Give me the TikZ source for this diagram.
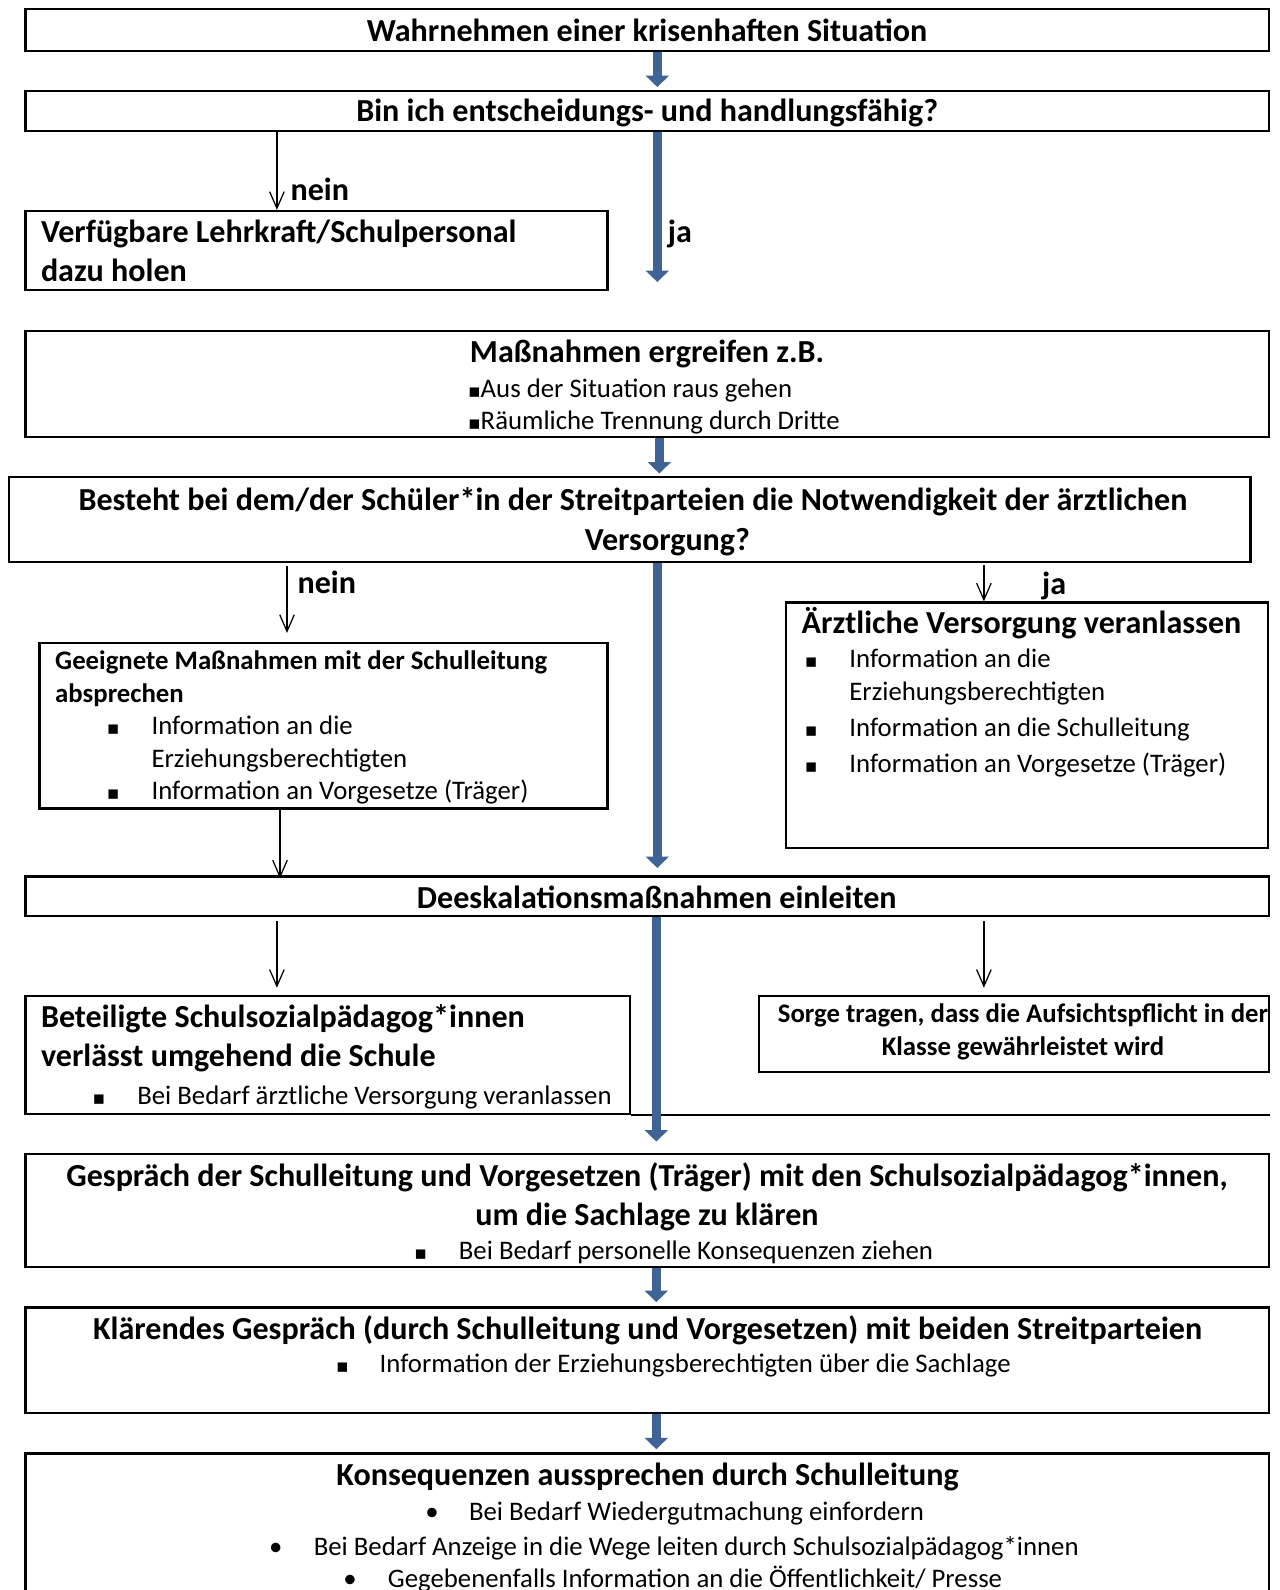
\documentclass[tikz,border=0pt]{standalone}
\usepackage{fontspec}
\setmainfont{Carlito}
\newfontfamily\symf{DejaVu Sans}
\usetikzlibrary{arrows.meta,fit}
\definecolor{arrowblue}{RGB}{62,99,148}
\newcommand\fT{\fontsize{15.4}{17}\selectfont\bfseries}
\newcommand\fL{\fontsize{15.4}{17}\selectfont\bfseries}
\newcommand\fS{\fontsize{12.85}{14}\selectfont\bfseries}
\newcommand\fB{\fontsize{12.85}{14}\selectfont}
\newcommand\sq{{\symf\fontsize{9}{11}\selectfont ▪}}
\newcommand\dt{{\fontsize{12.85}{14}\selectfont •}}
\begin{document}
\begin{tikzpicture}[x=0.48pt,y=-0.48pt,
  box/.style={draw, line width=1.1pt, inner sep=0pt},
  lt/.style={anchor=base west, inner sep=0pt},
  ct/.style={anchor=base, inner sep=0pt},
  bluearr/.style={draw=arrowblue, line width=4.3pt, -{Triangle[width=11pt,length=5.5pt]}},
  thinarr/.style={draw, line width=0.6pt, -{Straight Barb[length=8pt,width=7pt]}}]
\useasboundingbox (0,0) rectangle (1279,1590);
\fill[white] (0,0) rectangle (1279,1590);

% boxes
\node[box, fit={(25.4,9.1) (1268.9,50.7)}] (A) {};
\node[box, fit={(25.4,91.3) (1268.9,130.8)}] (B) {};
\node[box, fit={(25.4,211) (607.6,290.1)}] (C) {};
\node[box, fit={(25.4,330.7) (1268.9,437.2)}] (D) {};
\node[box, fit={(9.1,476.7) (1250.6,561.9)}] (E) {};
\node[box, fit={(39.6,643) (607.6,808.4)}] (F) {};
\node[box, fit={(786.1,602.5) (1267.9,848)}] (G) {};
\node[box, fit={(25.4,876.4) (1268.9,915.9)}] (H) {};
\node[box, fit={(25.4,996) (629.9,1113.7)}] (I) {};
\node[box, fit={(758.7,996) (1268.9,1072)}] (J) {};
\node[box, fit={(25.4,1154.3) (1268.9,1266.9)}] (K) {};
\node[box, fit={(25.4,1307.4) (1268.9,1412.9)}] (L) {};
\node[box, fit={(25.4,1453.5) (1268.9,1620)}] (M) {};
\draw[line width=1.1pt] (I.south east) -- (I.south east -| A.east);

% connector x positions
\coordinate (bx) at (657.3,0);
\coordinate (bx2) at (659.3,0);
\coordinate (bx3) at (656.3,0);
\coordinate (lx1) at (276.9,0);
\coordinate (lx2) at (287,0);
\coordinate (lx3) at (280,0);
\coordinate (rx) at (983.9,0);
\coordinate (jaend) at (657.3,282);

% blue arrows
\draw[bluearr, shorten >=1.5pt] (A.south -| bx) -- (B.north -| bx);
\draw[bluearr] (B.south -| bx) -- (jaend);
\draw[bluearr, shorten >=1pt] (D.south -| bx2) -- (E.north -| bx2);
\draw[bluearr, shorten >=3.5pt] (E.south -| bx) -- (H.north -| bx);
\draw[bluearr, shorten >=5.6pt] (H.south -| bx3) -- (K.north -| bx3);
\draw[bluearr, shorten >=2pt] (K.south -| bx3) -- (L.north -| bx3);
\draw[bluearr, shorten >=1.5pt] (L.south -| bx3) -- (M.north -| bx3);

% thin arrows
\draw[thinarr] (B.south -| lx1) -- (C.north -| lx1);
\draw[thinarr, shorten <=1.5pt, shorten >=4.3pt] (E.south -| lx2) -- (F.north -| lx2);
\draw[thinarr, shorten <=1pt] (E.south -| rx) -- (G.north -| rx);
\draw[thinarr] (F.south -| lx3) -- ([yshift=-1.5pt]H.north -| lx3);
\draw[thinarr, shorten <=2pt, shorten >=3.4pt] (H.south -| lx1) -- (I.north -| lx1);
\draw[thinarr, shorten <=2pt, shorten >=3.4pt] (H.south -| rx) -- (J.north -| rx);

% texts
\node[ct, font=\fT] (tA) at (647.1,41.7) {Wahrnehmen einer krisenhaften Situation};
\node[ct, font=\fT] (tB) at (647.1,121.9) {Bin ich entscheidungs- und handlungsfähig?};
\node[lt, font=\fT] (nein1) at (290.1,201) {nein};
\node[lt, font=\fL] (tC1) at (40.6,242.6) {Verfügbare Lehrkraft/Schulpersonal};
\node[lt, font=\fL] (tC2) at (40.6,281.1) {dazu holen};
\node[lt, font=\fT] (ja1) at (667.4,242.6) {ja};

\node[ct, font=\fT] (tD) at (647.1,362.3) {Maßnahmen ergreifen z.B.};
\node[lt, font=\fB] (tD1) at (467.6,397.1) {\sq Aus der Situation raus gehen};
\node[lt, font=\fB] (tD2) at (467.6,429.6) {\sq Räumliche Trennung durch Dritte};

\node[ct, font=\fT] (tE1) at (633,510.3) {Besteht bei dem/der Schüler*in der Streitparteien die Notwendigkeit der ärztlichen};
\node[ct, font=\fT] (tE2) at (667.4,550.9) {Versorgung?};
\node[lt, font=\fT] (nein2) at (297.2,593.5) {nein};
\node[lt, font=\fT] (ja2) at (1041.7,594.5) {ja};

\node[lt, font=\fS] (tF1) at (54.8,669.9) {Geeignete Maßnahmen mit der Schulleitung};
\node[lt, font=\fS] (tF2) at (54.8,702.4) {absprechen};
\node[lt] (bF1) at (106.5,734.8) {\sq};
\node[lt, font=\fB] (tF3) at (151.1,734.8) {Information an die};
\node[lt, font=\fB] (tF4) at (151.1,767.3) {Erziehungsberechtigten};
\node[lt] (bF2) at (106.5,799.8) {\sq};
\node[lt, font=\fB] (tF5) at (151.1,799.8) {Information an Vorgesetze (Träger)};

\node[lt, font=\fT] (tG) at (801.3,633.1) {Ärztliche Versorgung veranlassen};
\node[lt] (bG1) at (804.4,667.9) {\sq};
\node[lt, font=\fB] (tG1) at (849,667.9) {Information an die};
\node[lt, font=\fB] (tG2) at (849,700.4) {Erziehungsberechtigten};
\node[lt] (bG2) at (804.4,736.9) {\sq};
\node[lt, font=\fB] (tG3) at (849,736.9) {Information an die Schulleitung};
\node[lt] (bG3) at (804.4,772.4) {\sq};
\node[lt, font=\fB] (tG4) at (849,772.4) {Information an Vorgesetze (Träger)};

\node[ct, font=\fT] (tH) at (656.8,908) {Deeskalationsmaßnahmen einleiten};

\node[lt, font=\fL] (tI1) at (40.6,1027.6) {Beteiligte Schulsozialpädagog*innen};
\node[lt, font=\fL] (tI2) at (40.6,1066.2) {verlässt umgehend die Schule};
\node[lt] (bI) at (92.3,1104) {\sq};
\node[lt, font=\fB] (tI3) at (136.9,1104) {Bei Bedarf ärztliche Versorgung veranlassen};

\node[ct, font=\fS] (tJ1) at (1023,1022.9) {Sorge tragen, dass die Aufsichtspflicht in der};
\node[ct, font=\fS] (tJ2) at (1023,1055.4) {Klasse gewährleistet wird};

\node[ct, font=\fT] (tK1) at (647,1186.9) {Gespräch der Schulleitung und Vorgesetzen (Träger) mit den Schulsozialpädagog*innen,};
\node[ct, font=\fT] (tK2) at (647,1225.4) {um die Sachlage zu klären};
\node[lt] (bK) at (413.9,1259.2) {\sq};
\node[lt, font=\fB] (tK3) at (458.5,1259.2) {Bei Bedarf personelle Konsequenzen ziehen};

\node[ct, font=\fT] (tL1) at (647.6,1339) {Klärendes Gespräch (durch Schulleitung und Vorgesetzen) mit beiden Streitparteien};
\node[lt] (bL) at (335.8,1372.8) {\sq};
\node[lt, font=\fB] (tL2) at (379.3,1372.8) {Information der Erziehungsberechtigten über die Sachlage};

\node[ct, font=\fT] (tM) at (647.6,1485.1) {Konsequenzen aussprechen durch Schulleitung};
\node[lt] (bM1) at (425,1520.9) {\dt};
\node[lt, font=\fB] (tM1) at (468.6,1520.9) {Bei Bedarf Wiedergutmachung einfordern};
\node[lt] (bM2) at (268.8,1555.4) {\dt};
\node[lt, font=\fB] (tM2) at (313.4,1555.4) {Bei Bedarf Anzeige in die Wege leiten durch Schulsozialpädagog*innen};
\node[lt] (bM3) at (342.9,1587.9) {\dt};
\node[lt, font=\fB] (tM3) at (387.5,1587.9) {Gegebenenfalls Information an die Öffentlichkeit/ Presse};
\end{tikzpicture}
\end{document}
